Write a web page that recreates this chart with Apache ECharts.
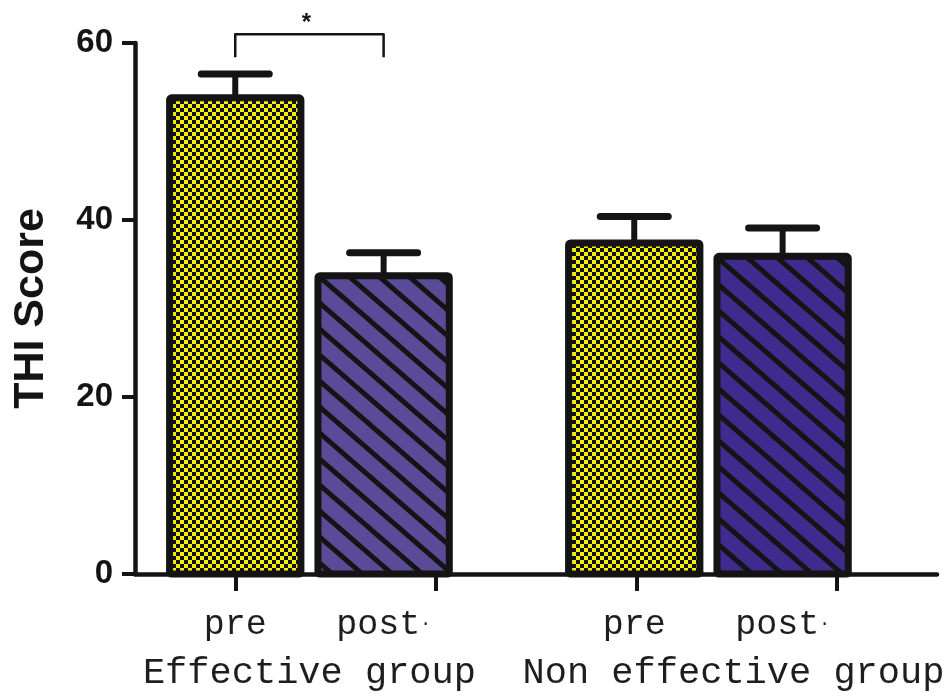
<!DOCTYPE html>
<html>
<head>
<meta charset="utf-8">
<script src="https://cdn.jsdelivr.net/npm/echarts@6/dist/echarts.min.js"></script>
<style>
  html, body { margin: 0; padding: 0; background: #ffffff; }
  #chart { width: 951px; height: 698px; }
</style>
</head>
<body>
<div id="chart"></div>
<script>
// ---- data ----
const barLabels = ['pre', 'post', 'pre', 'post'];          // one label per bar
const groupLabels = ['Effective group', 'Non effective group'];
const barPos = [0, 0.74, 1.99, 2.73];                       // bar positions on the x scale
const tickPos = [0, 1, 2, 3];                               // x tick positions
const groupPos = [0.37, 2.485];                             // group label positions
const means = [53.8, 33.7, 37.4, 35.9];                     // THI score means
const sems = [2.7, 2.6, 3.0, 3.2];                          // error (upper) bars
const yTicks = [0, 20, 40, 60];
const sigFrom = 0, sigTo = 1, sigTop = 61, sigLeg = 58.4, sigText = '*';

const BAR_W = 0.655; // bar width in x-scale units

// ---- fill patterns ----
function checkerPattern() {
  const c = document.createElement('canvas');
  c.width = 8; c.height = 8;
  const g = c.getContext('2d');
  g.fillStyle = '#f4f000'; g.fillRect(0, 0, 8, 8);
  g.fillStyle = '#121212';
  g.fillRect(0, 0, 4, 4); g.fillRect(4, 4, 4, 4);
  return { image: c, repeat: 'repeat' };
}
function stripePattern(bg) {
  const W = 30, H = 26;
  const c = document.createElement('canvas');
  c.width = W; c.height = H;
  const g = c.getContext('2d');
  g.fillStyle = bg; g.fillRect(0, 0, W, H);
  g.strokeStyle = '#141414'; g.lineWidth = 5;
  for (let k = -1; k <= 1; k++) {
    g.beginPath();
    g.moveTo(-W, k * H - H); g.lineTo(2 * W, k * H + 2 * H);
    g.stroke();
  }
  return { image: c, repeat: 'repeat' };
}
const fills = [checkerPattern(), stripePattern('#5a4a97'), checkerPattern(), stripePattern('#3e2b8d')];

const barData = barPos.map((x, i) => [x, means[i], i]);
const errData = barPos.map((x, i) => [x, means[i], sems[i]]);
const sigData = [[barPos[sigFrom], barPos[sigTo], sigTop, sigLeg]];

const ink = '#141414';
const chart = echarts.init(document.getElementById('chart'), null, { renderer: 'canvas' });
chart.setOption({
  animation: false,
  backgroundColor: '#ffffff',
  grid: { left: 135, right: 14, top: 43, bottom: 124, outerBoundsMode: 'none' },
  xAxis: [
    {
      type: 'value', min: -0.5, max: 3.5, position: 'bottom',
      splitLine: { show: false },
      axisLine: { show: true, onZero: false, lineStyle: { color: ink, width: 4.5 } },
      axisTick: { show: true, customValues: tickPos, length: 17, lineStyle: { color: ink, width: 4 } },
      axisLabel: {
        customValues: barPos, margin: 33,
        formatter: function (v) {
          let best = 0;
          barPos.forEach((p, i) => { if (Math.abs(p - v) < Math.abs(barPos[best] - v)) best = i; });
          const t = barLabels[best];
          return t === 'post' ? '{a|post}{b|·}' : '{a|' + t + '}';
        },
        rich: {
          a: { fontFamily: 'Liberation Mono', fontSize: 35, color: '#1e1e1e' },
          b: { fontFamily: 'Liberation Mono', fontSize: 18, color: '#1e1e1e' }
        }
      }
    },
    {
      type: 'value', min: -0.5, max: 3.5, position: 'bottom',
      splitLine: { show: false },
      axisLine: { show: false, onZero: false }, axisTick: { show: false },
      axisLabel: {
        customValues: groupPos, margin: 81,
        fontFamily: 'Liberation Mono', fontSize: 37, color: '#1e1e1e',
        formatter: function (v) {
          return Math.abs(v - groupPos[0]) < Math.abs(v - groupPos[1]) ? groupLabels[0] : groupLabels[1];
        }
      }
    }
  ],
  yAxis: {
    type: 'value', min: yTicks[0], max: yTicks[yTicks.length - 1], interval: 20,
    name: 'THI Score', nameLocation: 'middle', nameGap: 82,
    nameTextStyle: { fontFamily: 'Liberation Sans', fontWeight: 'bold', fontSize: 43, color: ink },
    splitLine: { show: false },
    axisLine: { show: true, onZero: false, lineStyle: { color: ink, width: 4.5 } },
    axisTick: { show: true, length: 13, lineStyle: { color: ink, width: 4 } },
    axisLabel: { margin: 22, fontFamily: 'Liberation Sans', fontWeight: 'bold', fontSize: 33, color: ink }
  },
  series: [
    {
      type: 'custom', xAxisIndex: 0, data: barData, z: 2, clip: false,
      encode: { x: 0, y: 1 },
      renderItem: function (params, api) {
        const x = api.value(0), m = api.value(1), idx = api.value(2);
        const tl = api.coord([x - BAR_W / 2, m]);
        const br = api.coord([x + BAR_W / 2, 0]);
        return {
          type: 'rect',
          shape: { x: tl[0], y: tl[1], width: br[0] - tl[0], height: br[1] - tl[1], r: 2 },
          style: { fill: fills[idx], stroke: ink, lineWidth: 7, lineJoin: 'round' }
        };
      }
    },
    {
      type: 'custom', xAxisIndex: 0, data: errData, z: 3, clip: false,
      renderItem: function (params, api) {
        const x = api.value(0), m = api.value(1), s = api.value(2);
        const base = api.coord([x, m]);
        const top = api.coord([x, m + s]);
        return {
          type: 'group',
          children: [
            { type: 'line', shape: { x1: base[0], y1: base[1], x2: top[0], y2: top[1] },
              style: { stroke: ink, lineWidth: 6 } },
            { type: 'line', shape: { x1: top[0] - 34, y1: top[1], x2: top[0] + 34, y2: top[1] },
              style: { stroke: ink, lineWidth: 7, lineCap: 'round' } }
          ]
        };
      }
    },
    {
      type: 'custom', xAxisIndex: 0, data: sigData, z: 4, clip: false,
      renderItem: function (params, api) {
        const p1 = api.coord([api.value(0), api.value(3)]);
        const p2 = api.coord([api.value(0), api.value(2)]);
        const p3 = api.coord([api.value(1), api.value(2)]);
        const p4 = api.coord([api.value(1), api.value(3)]);
        return {
          type: 'group',
          children: [
            { type: 'polyline', shape: { points: [p1, p2, p3, p4] },
              style: { stroke: ink, lineWidth: 2.5, fill: null, lineJoin: 'round' } },
            { type: 'text', x: (p2[0] + p3[0]) / 2 - 3, y: p2[1] + 1,
              style: { text: sigText, fontFamily: 'Liberation Sans', fontWeight: 'bold', fontSize: 24,
                       fill: ink, align: 'center', verticalAlign: 'bottom' } }
          ]
        };
      }
    }
  ]
});
</script>
</body>
</html>
